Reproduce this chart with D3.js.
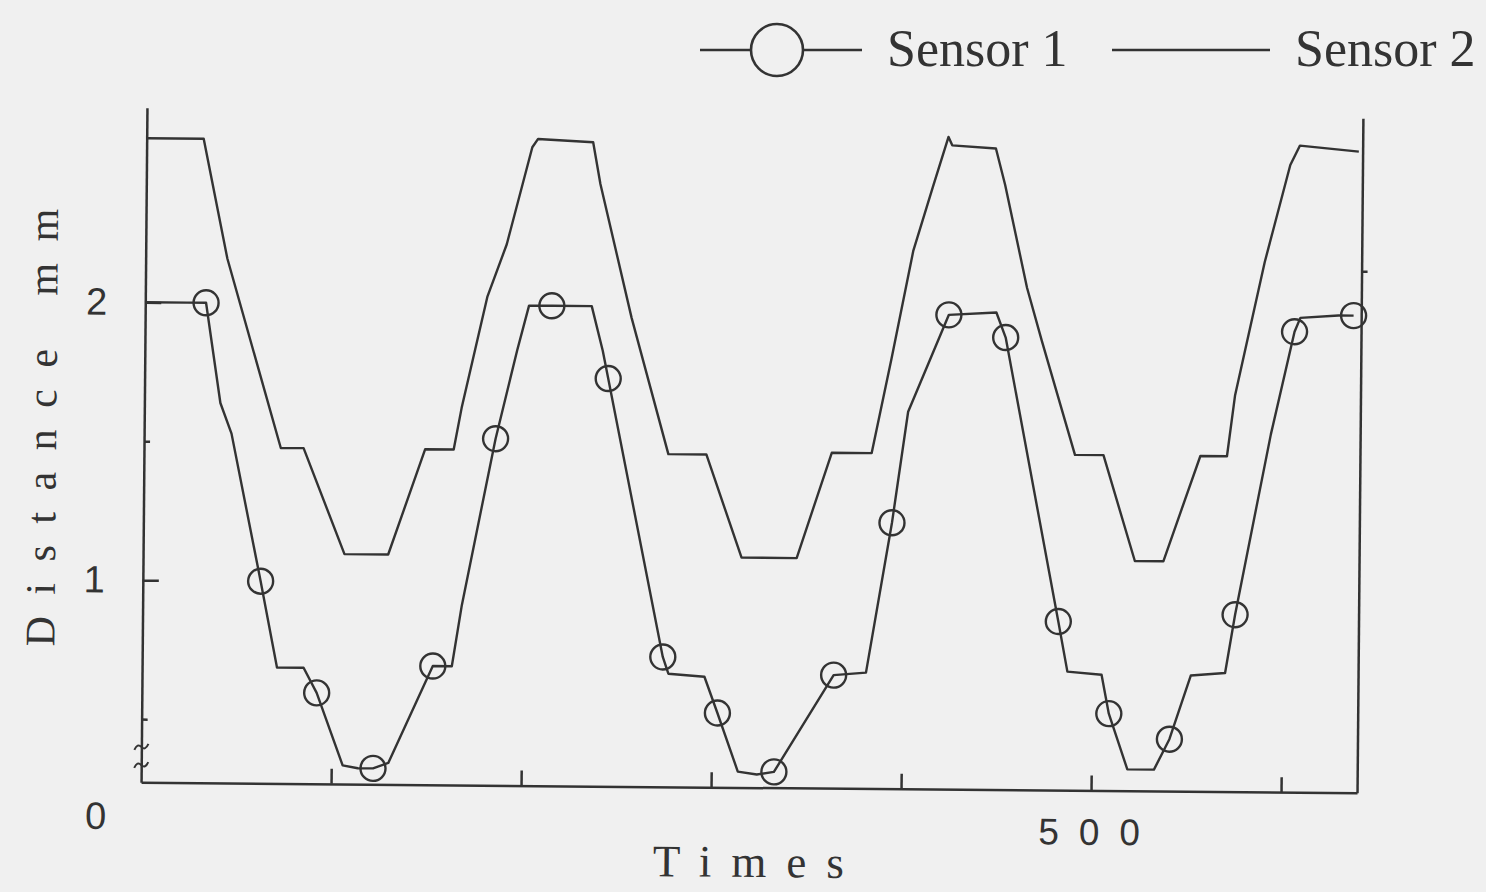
<!DOCTYPE html>
<html>
<head>
<meta charset="utf-8">
<script src="https://cdnjs.cloudflare.com/ajax/libs/d3/7.8.5/d3.min.js"></script>
<style>
  body { margin: 0; background: #f0f0f0; }
  svg { display: block; }
</style>
</head>
<body>
<div id="chart"></div>
<script>
// values (time in samples, distance in mm)
const sensor2T = [0, 30, 43, 72, 84, 106, 129, 148, 163, 167, 180, 190, 203, 206, 235, 239, 256, 276, 296, 315, 344, 362, 383, 393, 404, 414, 422, 424, 447, 452, 464, 472, 490, 505, 522, 537, 556, 570, 574, 589, 602, 607, 638];
const sensor2V = [2.59, 2.59, 2.16, 1.48, 1.48, 1.10, 1.10, 1.48, 1.48, 1.63, 2.03, 2.22, 2.57, 2.60, 2.59, 2.44, 1.96, 1.47, 1.47, 1.10, 1.10, 1.48, 1.48, 1.82, 2.21, 2.44, 2.62, 2.59, 2.58, 2.45, 2.08, 1.89, 1.48, 1.48, 1.10, 1.10, 1.48, 1.48, 1.70, 2.18, 2.53, 2.60, 2.58];

const sensor1T = [0, 22, 32, 40, 46, 62, 71, 85, 92, 106, 114, 122, 130, 153, 163, 168, 185, 196, 202, 214, 235, 241, 244, 274, 277, 296, 303, 314, 324, 333, 364, 381, 394, 402, 423, 448, 453, 482, 487, 505, 509, 519, 533, 541, 552, 570, 575, 593, 605, 608, 628, 636];
const sensor1V = [2.00, 2.00, 2.00, 1.64, 1.53, 1.00, 0.69, 0.69, 0.60, 0.34, 0.33, 0.33, 0.35, 0.70, 0.70, 0.92, 1.52, 1.84, 2.00, 2.00, 2.00, 1.84, 1.74, 0.74, 0.68, 0.67, 0.54, 0.33, 0.32, 0.33, 0.68, 0.69, 1.23, 1.63, 1.98, 1.99, 1.90, 0.88, 0.70, 0.69, 0.55, 0.35, 0.35, 0.46, 0.69, 0.70, 0.91, 1.56, 1.93, 1.98, 1.99, 1.99];

// sample points that carry the circle marker
const markT = [32, 62, 92, 122, 153, 185, 214, 244, 274, 303, 333, 364, 394, 423, 453, 482, 509, 541, 575, 605, 636];
const markV = [2.00, 1.00, 0.60, 0.33, 0.70, 1.52, 2.00, 1.74, 0.74, 0.54, 0.33, 0.68, 1.23, 1.98, 1.90, 0.88, 0.55, 0.46, 0.91, 1.93, 1.99];

const yTicks = [1, 2];
const yMinorTicks = [0.5, 1.5];
const xTicks = [100, 200, 300, 400, 500, 600];
const xLabelled = [500];
const rightTicks = [2.15];

const W = 1486, H = 892;
const ink = "#333";
const serif = "'Liberation Serif', 'Times New Roman', serif";
const sans = "'Liberation Sans', Arial, sans-serif";

const svg = d3.select("#chart").append("svg")
    .attr("width", W)
    .attr("height", H);

svg.append("rect").attr("width", W).attr("height", H).attr("fill", "#f0f0f0");

// the scanned figure is turned by about half a degree
const g = svg.append("g").attr("transform", "rotate(0.5, 750, 450)");

const x = d3.scaleLinear().domain([0, 640]).range([144, 1360]);
const y = d3.scaleLinear().domain([0.273, 2.70]).range([787.5, 113]);

    // left axis (major ticks with labels, minor without)
const yAxis = g.append("g")
    .attr("transform", `translate(${x(0)},0)`)
    .call(d3.axisLeft(y).tickValues(yTicks).tickSizeInner(-16).tickSizeOuter(0)
        .tickPadding(38).tickFormat(d3.format("d")));

g.append("g")
    .attr("transform", `translate(${x(0)},0)`)
    .call(d3.axisLeft(y).tickValues(yMinorTicks).tickSizeInner(-6).tickSizeOuter(0).tickFormat(""))
    .select(".domain").remove();

    // right axis
g.append("g")
    .attr("transform", `translate(${x(640)},0)`)
    .call(d3.axisRight(y).tickValues(rightTicks).tickSizeInner(6).tickSizeOuter(0).tickFormat(""));

    // bottom axis, only 500 is labelled
const xAxis = g.append("g")
    .attr("transform", `translate(0,${y(0.273)})`)
    .call(d3.axisBottom(x).tickValues(xTicks).tickSizeInner(-15).tickSizeOuter(0)
        .tickPadding(28).tickFormat(d => xLabelled.includes(d) ? String(d) : ""));

g.selectAll(".domain, .tick line").attr("stroke", ink).attr("stroke-width", 2.5);

yAxis.selectAll(".tick text")
    .attr("fill", ink)
    .style("font-family", sans)
    .style("font-size", "38px");

xAxis.selectAll(".tick text")
    .attr("fill", ink)
    .attr("dx", 8)
    .style("font-family", sans)
    .style("font-size", "37px")
    .style("letter-spacing", "20px");

    // axis break marks near the bottom of the left axis
[0.40, 0.335].forEach(v => {
    const bx = x(0), by = y(v);
    g.append("path")
        .attr("d", `M${bx - 7},${by + 3} q 3,-7 7,-3 t 7,-3`)
        .attr("fill", "none")
        .attr("stroke", ink)
        .attr("stroke-width", 2);
});

    // origin label
g.append("text")
    .attr("x", x(0) - 45)
    .attr("y", y(0.273) + 47)
    .attr("text-anchor", "middle")
    .attr("fill", ink)
    .style("font-family", sans)
    .style("font-size", "38px")
    .text("0");

    // axis titles
g.append("text")
    .attr("x", 752)
    .attr("y", 877)
    .attr("dx", 10)
    .attr("text-anchor", "middle")
    .attr("fill", ink)
    .style("font-family", serif)
    .style("font-size", "45px")
    .style("letter-spacing", "20px")
    .text("Times");

g.append("text")
    .attr("transform", "translate(56,434) rotate(-90)")
    .attr("dx", 11)
    .attr("text-anchor", "middle")
    .attr("fill", ink)
    .style("font-family", serif)
    .style("font-size", "42px")
    .style("letter-spacing", "21.5px")
    .text("Distance mm");

    // the two traces
const line = d3.line().x(d => x(d[0])).y(d => y(d[1]));

g.append("path")
    .datum(d3.zip(sensor2T, sensor2V))
    .attr("fill", "none")
    .attr("stroke", ink)
    .attr("stroke-width", 2.4)
    .attr("stroke-linejoin", "round")
    .attr("d", line);

g.append("path")
    .datum(d3.zip(sensor1T, sensor1V))
    .attr("fill", "none")
    .attr("stroke", ink)
    .attr("stroke-width", 2.4)
    .attr("stroke-linejoin", "round")
    .attr("d", line);

g.selectAll("circle.mark")
    .data(d3.zip(markT, markV))
    .enter()
    .append("circle")
    .attr("class", "mark")
    .attr("cx", d => x(d[0]))
    .attr("cy", d => y(d[1]))
    .attr("r", 12.5)
    .attr("fill", "none")
    .attr("stroke", ink)
    .attr("stroke-width", 2.4);

    // legend (above the plot, not part of the turned frame)
const legend = svg.append("g");

legend.append("line")
    .attr("x1", 700).attr("x2", 862).attr("y1", 50).attr("y2", 50)
    .attr("stroke", ink).attr("stroke-width", 2.5);
legend.append("circle")
    .attr("cx", 777).attr("cy", 50).attr("r", 26)
    .attr("fill", "#f0f0f0").attr("stroke", ink).attr("stroke-width", 2.6);
legend.append("text")
    .attr("x", 887).attr("y", 66)
    .attr("fill", ink)
    .style("font-family", serif).style("font-size", "52px")
    .text("Sensor 1");

legend.append("line")
    .attr("x1", 1112).attr("x2", 1270).attr("y1", 50).attr("y2", 50)
    .attr("stroke", ink).attr("stroke-width", 2.5);
legend.append("text")
    .attr("x", 1295).attr("y", 66)
    .attr("fill", ink)
    .style("font-family", serif).style("font-size", "52px")
    .text("Sensor 2");
</script>
</body>
</html>
